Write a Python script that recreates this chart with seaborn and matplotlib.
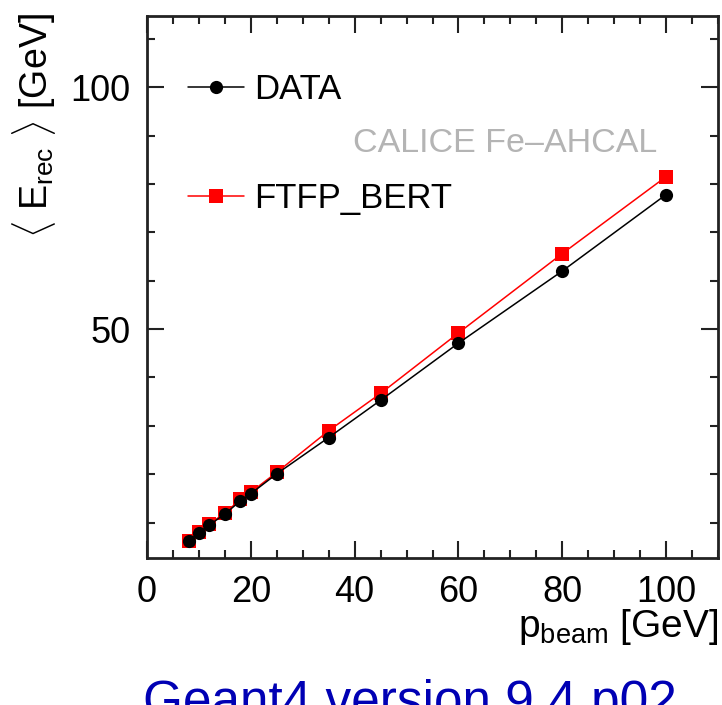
import numpy as np
import pandas as pd
import matplotlib
matplotlib.use("Agg")
import matplotlib.pyplot as plt
from matplotlib.ticker import MultipleLocator
import seaborn as sns

# ---- data ----
p_beam = [8, 10, 12, 15, 18, 20, 25, 35, 45, 60, 80, 100]
e_data = [6.2, 7.9, 9.5, 11.8, 14.5, 16.0, 20.1, 27.6, 35.3, 47.1, 62.0, 77.8]
e_ftfp = [6.3, 8.0, 9.7, 12.0, 14.8, 16.3, 20.4, 29.0, 36.7, 49.2, 65.6, 81.5]
series_names = ["DATA", "FTFP_BERT"]
x_ticks_major = 20
y_ticks_major = 50

df = pd.concat([
    pd.DataFrame({"p": p_beam, "E": e_ftfp, "sample": "FTFP_BERT"}),
    pd.DataFrame({"p": p_beam, "E": e_data, "sample": "DATA"}),
], ignore_index=True)

sns.set_theme(style="ticks")
plt.rcParams["font.family"] = ["Liberation Sans", "DejaVu Sans"]
plt.rcParams["mathtext.fontset"] = "custom"
plt.rcParams["mathtext.rm"] = "Liberation Sans"
plt.rcParams["mathtext.it"] = "Liberation Sans:italic"
plt.rcParams["text.color"] = "black"

W, H = 722, 705
fig = plt.figure(figsize=(W / 100, H / 100), dpi=100)
fig.patch.set_facecolor("white")
ax = fig.add_axes([147 / W, 1 - 558 / H, (718 - 147) / W, (558 - 16) / H])
ax.set_facecolor("white")

sns.lineplot(data=df, x="p", y="E", hue="sample", style="sample",
             hue_order=["FTFP_BERT", "DATA"], style_order=["FTFP_BERT", "DATA"],
             palette={"DATA": "black", "FTFP_BERT": "#ff0000"},
             markers={"DATA": "o", "FTFP_BERT": "s"}, dashes=False,
             markersize=9.5, markeredgewidth=0, linewidth=1.1,
             legend=False, ax=ax)

ax.set_xlim(0, 110)
ax.set_ylim(2.7, 114.7)
ax.xaxis.set_major_locator(MultipleLocator(x_ticks_major))
ax.xaxis.set_minor_locator(MultipleLocator(5))
ax.yaxis.set_major_locator(MultipleLocator(y_ticks_major))
ax.yaxis.set_minor_locator(MultipleLocator(10))
ax.tick_params(which="both", direction="in", top=True, right=True,
               width=1.5, color="#222222", labelsize=26, labelcolor="black")
ax.tick_params(which="major", length=12, pad=12)
ax.tick_params(which="minor", length=6)
for s in ax.spines.values():
    s.set_linewidth(2.0)
    s.set_color("#222222")
ax.set_xlabel("")
ax.set_ylabel("")

lines = ax.get_lines()
leg = ax.legend(handles=[lines[1], lines[0]], labels=series_names,
                loc="upper left", bbox_to_anchor=(188 / W, 1 - 73 / H),
                bbox_transform=fig.transFigure, frameon=False,
                fontsize=25, handlelength=1.6, handletextpad=0.3,
                labelspacing=2.2, borderpad=0, borderaxespad=0)

fig.text(505 / W, 1 - 143 / H, "CALICE Fe\u2013AHCAL", color="#b4b4b4",
         fontsize=24.5, ha="center", va="center")

fig.text(718 / W, 1 - 637 / H, r"$\mathregular{p_{beam}}$ [GeV]",
         fontsize=28, ha="right", va="baseline", color="black")
fig.text(34 / W, 1 - 126 / H, r"$\langle$ E$_{\mathregular{rec}}$ $\rangle$ [GeV]",
         fontsize=27, rotation=90, ha="center", va="center", color="black")

fig.text(410 / W, 1 - 717 / H, "Geant4 version 9.4.p02", color="#0000b4",
         fontsize=37, ha="center", va="baseline")

fig.savefig("out.png", dpi=100, facecolor="white")
